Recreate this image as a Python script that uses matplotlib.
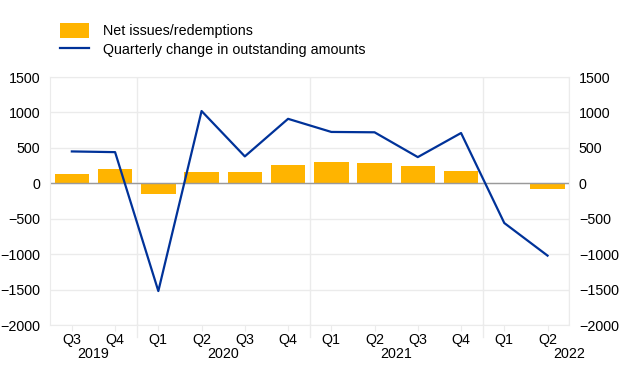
import numpy as np
import matplotlib
matplotlib.use("Agg")
import matplotlib.pyplot as plt
from matplotlib.patches import Patch
from matplotlib.lines import Line2D

plt.rcParams['font.family'] = ['Liberation Sans', 'DejaVu Sans']

quarters = ["Q3", "Q4", "Q1", "Q2", "Q3", "Q4", "Q1", "Q2", "Q3", "Q4", "Q1", "Q2"]
years = ["2019", "2020", "2021", "2022"]
year_pos = [0.5, 3.5, 7.5, 11.5]
year_bounds = [1.5, 5.5, 9.5]
net_issues = [135, 200, -145, 155, 160, 260, 300, 285, 240, 180, -15, -75]
quarterly_change = [450, 440, -1520, 1020, 380, 910, 725, 720, 370, 710, -560, -1020]
yticks = [-2000, -1500, -1000, -500, 0, 500, 1000, 1500]

orange = "#FFB400"
blue = "#003299"
grid = "#ebebeb"
fs = 10.3

fig = plt.figure(figsize=(6.2, 3.87), dpi=100)
ax = fig.add_axes([0.081, 0.160, 0.837, 0.641])

x = np.arange(len(quarters))
ax.bar(x, net_issues, width=0.8, color=orange, zorder=2)
ax.plot(x, quarterly_change, color=blue, linewidth=1.6, zorder=3)
ax.axhline(0, color="#9a9a9a", linewidth=1, zorder=2.5)

ax.set_xlim(-0.5, len(quarters) - 0.5)
ax.set_ylim(-2000, 1500)
ax.set_yticks(yticks)
ax.yaxis.grid(True, color=grid, linewidth=1, zorder=0)
for b in year_bounds + [len(quarters) - 0.5]:
    ax.axvline(b, color=grid, linewidth=1, zorder=0)
for s in ax.spines.values():
    s.set_color(grid)

ax.tick_params(axis="y", length=0, labelsize=fs, labelright=True, pad=7)
ax.set_xticks(x)
ax.set_xticklabels(quarters, fontsize=fs)
ax.tick_params(axis="x", length=4, color=grid, pad=2)

# year boundary ticks below axis
for b in year_bounds:
    ax.plot([b, b], [0, -0.05], transform=ax.get_xaxis_transform(),
            color=grid, linewidth=1, clip_on=False)
for p, yr in zip(year_pos, years):
    ax.text(p, -0.09, yr, transform=ax.get_xaxis_transform(),
            ha="center", va="top", fontsize=fs)

handles = [Patch(facecolor=orange, edgecolor="none"),
           Line2D([0], [0], color=blue, linewidth=1.6)]
labels = ["Net issues/redemptions", "Quarterly change in outstanding amounts"]
fig.legend(handles, labels, loc="upper left", bbox_to_anchor=(0.076, 0.975),
           frameon=False, fontsize=fs, handlelength=2.0, handleheight=1.3,
           labelspacing=0.25, handletextpad=1.0)

fig.savefig("out.png", dpi=100)
